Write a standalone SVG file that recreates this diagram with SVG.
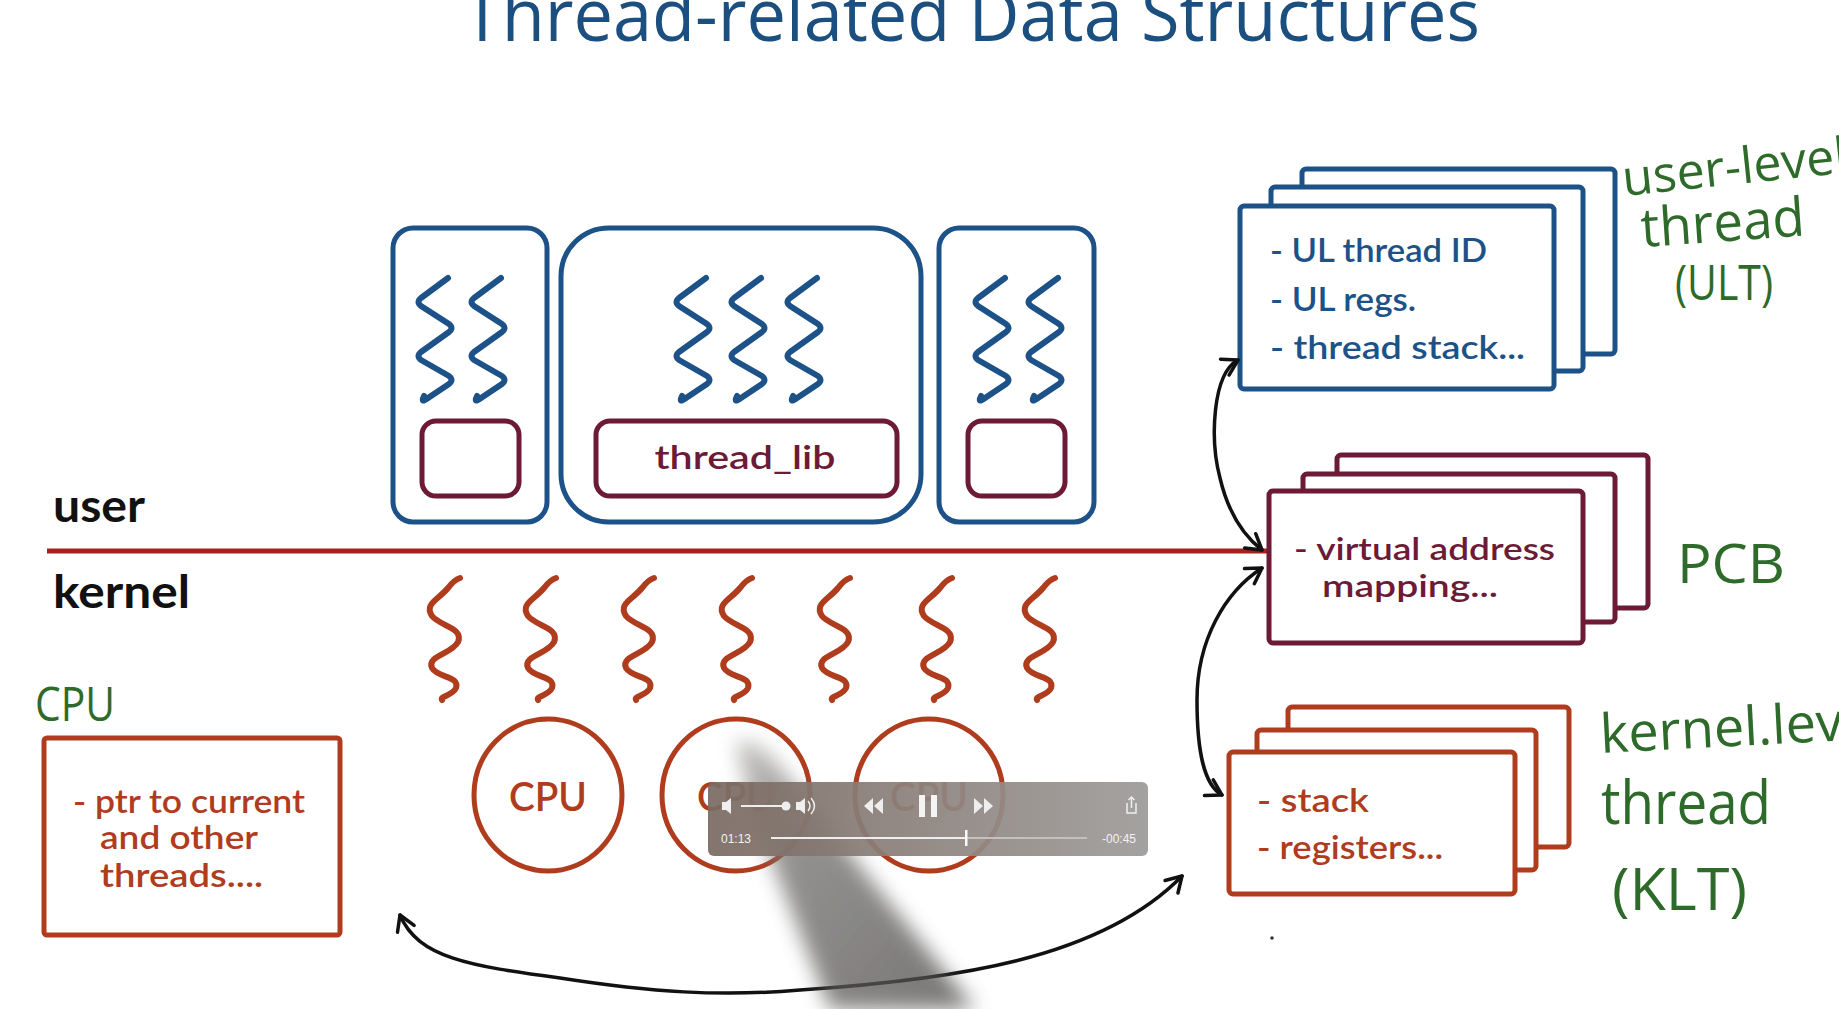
<svg xmlns="http://www.w3.org/2000/svg" width="1839" height="1009" viewBox="0 0 1839 1009">
<style>
  .blue{stroke:#1d5289;fill:none;stroke-width:5;stroke-linecap:round;stroke-linejoin:round}
  .maroon{stroke:#6d1a36;fill:none;stroke-width:5}
  .red{stroke:#b03c1e;fill:none;stroke-width:5}
  .sqb{stroke:#1d5289;fill:none;stroke-width:6;stroke-linecap:round;stroke-linejoin:round}
  .sqr{stroke:#b03c1e;fill:none;stroke-width:6;stroke-linecap:round;stroke-linejoin:round}
  .ink{stroke:#111;fill:none;stroke-width:3.5;stroke-linecap:round}
  .tb{font-family:"Lato","Liberation Sans",sans-serif;font-size:33px;fill:#1d5289;font-weight:600}
  .tm{font-family:"Lato","Liberation Sans",sans-serif;font-size:31px;fill:#6d1a36;font-weight:600}
  .tr{font-family:"Lato","Liberation Sans",sans-serif;font-size:33px;fill:#b03c1e;font-weight:600}
  .hw{font-family:"Open Sans","DejaVu Sans",sans-serif;font-weight:400;fill:#2e6b2a}
  .lbl{font-family:"Lato","Liberation Sans",sans-serif;font-weight:700;fill:#111;font-size:46px}
  .ui{font-family:"Liberation Sans",sans-serif;font-size:12px;fill:#f2f2f2}
</style>
<defs>
  <path id="sq" d="M12,0 L-15,20 Q-20,24 -15,28 L13,46 Q18,50 13,54 L-15,74 Q-20,78 -15,82 L13,98 Q18,102 13,106 L-8,120 Q-16,126 -12,118"/>
  <path id="sk" d="M14,0 Q8,2 2,10 C-8,22 -22,26 -14,38 C-6,48 18,50 12,64 C6,76 -20,78 -14,90 C-8,100 14,98 10,110 C6,118 -6,118 -4,122"/>
  <marker id="ah" viewBox="0 0 24 24" refX="19" refY="12" markerWidth="24" markerHeight="24" markerUnits="userSpaceOnUse" orient="auto-start-reverse">
    <path d="M4,3 L19,12 L4,21" fill="none" stroke="#111" stroke-width="3.5" stroke-linecap="round" stroke-linejoin="round"/>
  </marker>
  <filter id="blur" x="-50%" y="-50%" width="200%" height="200%"><feGaussianBlur stdDeviation="10"/></filter>
  <linearGradient id="pen" x1="0" y1="0" x2="1" y2="1">
    <stop offset="0" stop-color="#b0aeac"/>
    <stop offset="0.35" stop-color="#6e6c6a"/>
    <stop offset="1" stop-color="#4a4846"/>
  </linearGradient>
  <linearGradient id="bar" x1="0" y1="0" x2="1" y2="0">
    <stop offset="0" stop-color="#7a6a62"/>
    <stop offset="0.4" stop-color="#8a7f79"/>
    <stop offset="1" stop-color="#9d9b99"/>
  </linearGradient>
</defs>

<rect width="1839" height="1009" fill="#ffffff"/>

<!-- title -->
<text x="463" y="41" textLength="1017" lengthAdjust="spacingAndGlyphs" style="font-family:'Open Sans','DejaVu Sans',sans-serif;font-weight:400;font-size:74px;fill:#1a4f7f">Thread-related Data Structures</text>

<!-- user / kernel divider -->
<g id="divider">
  <line x1="47" y1="551" x2="1267" y2="551" stroke="#a3221e" stroke-width="5"/>
  <text class="lbl" x="53" y="522" textLength="92" lengthAdjust="spacingAndGlyphs">user</text>
  <text class="lbl" x="53" y="608" textLength="137" lengthAdjust="spacingAndGlyphs">kernel</text>
</g>

<!-- user processes -->
<g id="proc1">
  <rect class="blue" x="393" y="228" width="154" height="294" rx="20"/>
  <use href="#sq" class="sqb" transform="translate(436,278)"/>
  <use href="#sq" class="sqb" transform="translate(489,278)"/>
  <rect class="maroon" x="422" y="421" width="97" height="75" rx="14"/>
</g>
<g id="proc2">
  <rect class="blue" x="561" y="228" width="360" height="294" rx="48"/>
  <use href="#sq" class="sqb" transform="translate(694,278)"/>
  <use href="#sq" class="sqb" transform="translate(749,278)"/>
  <use href="#sq" class="sqb" transform="translate(805,278)"/>
  <rect class="maroon" x="596" y="421" width="301" height="75" rx="14"/>
  <text class="tm" x="745" y="469" text-anchor="middle" style="font-size:33px" textLength="181" lengthAdjust="spacingAndGlyphs">thread_lib</text>
</g>
<g id="proc3">
  <rect class="blue" x="939" y="228" width="155" height="294" rx="20"/>
  <use href="#sq" class="sqb" transform="translate(993,278)"/>
  <use href="#sq" class="sqb" transform="translate(1046,278)"/>
  <rect class="maroon" x="968" y="421" width="97" height="75" rx="14"/>
</g>

<!-- kernel threads -->
<g id="kthreads">
  <use href="#sk" class="sqr" transform="translate(446,578)"/>
  <use href="#sk" class="sqr" transform="translate(542,578)"/>
  <use href="#sk" class="sqr" transform="translate(640,578)"/>
  <use href="#sk" class="sqr" transform="translate(738,578)"/>
  <use href="#sk" class="sqr" transform="translate(836,578)"/>
  <use href="#sk" class="sqr" transform="translate(938,578)"/>
  <use href="#sk" class="sqr" transform="translate(1041,578)"/>
</g>

<!-- CPUs -->
<g id="cpu1">
  <ellipse class="red" cx="548" cy="795" rx="74" ry="76"/>
  <text class="tr" x="548" y="811" text-anchor="middle" style="font-size:40px" textLength="78" lengthAdjust="spacingAndGlyphs">CPU</text>
</g>
<g id="cpu2">
  <ellipse class="red" cx="736" cy="795" rx="74" ry="76"/>
  <text class="tr" x="736" y="811" text-anchor="middle" style="font-size:40px" textLength="78" lengthAdjust="spacingAndGlyphs">CPU</text>
</g>
<g id="cpu3">
  <ellipse class="red" cx="929" cy="795" rx="74" ry="76"/>
  <text class="tr" x="929" y="811" text-anchor="middle" style="font-size:40px" textLength="78" lengthAdjust="spacingAndGlyphs">CPU</text>
</g>

<!-- CPU data structure -->
<g id="cpu-struct">
  <text class="hw" x="35" y="721" style="font-size:48px" textLength="80" lengthAdjust="spacingAndGlyphs">CPU</text>
  <rect class="red" x="44" y="738" width="296" height="197" rx="3"/>
  <text class="tr" x="73" y="813" textLength="232" lengthAdjust="spacingAndGlyphs">- ptr to current</text>
  <text class="tr" x="100" y="849" textLength="158" lengthAdjust="spacingAndGlyphs">and other</text>
  <text class="tr" x="100" y="887" textLength="163" lengthAdjust="spacingAndGlyphs">threads....</text>
</g>

<!-- ULT stack -->
<g id="ult">
  <rect class="blue" x="1302" y="169" width="313" height="185" rx="4" style="fill:#fff"/>
  <rect class="blue" x="1271" y="187" width="312" height="184" rx="4" style="fill:#fff"/>
  <rect class="blue" x="1240" y="206" width="314" height="183" rx="4" style="fill:#fff"/>
  <text class="tb" x="1270" y="262" textLength="217" lengthAdjust="spacingAndGlyphs">- UL thread ID</text>
  <text class="tb" x="1270" y="311" textLength="146" lengthAdjust="spacingAndGlyphs">- UL regs.</text>
  <text class="tb" x="1270" y="359" textLength="255" lengthAdjust="spacingAndGlyphs">- thread stack...</text>
  <text class="hw" x="1624" y="196" style="font-size:50px" transform="rotate(-6 1624 196)">user-level</text>
  <text class="hw" x="1642" y="247" style="font-size:54px" textLength="164" lengthAdjust="spacingAndGlyphs" transform="rotate(-4 1642 247)">thread</text>
  <text class="hw" x="1675" y="300" style="font-size:50px" textLength="98" lengthAdjust="spacingAndGlyphs">(ULT)</text>
</g>

<!-- PCB stack -->
<g id="pcb">
  <rect class="maroon" x="1337" y="455" width="311" height="153" rx="4" style="fill:#fff"/>
  <rect class="maroon" x="1303" y="474" width="312" height="148" rx="4" style="fill:#fff"/>
  <rect class="maroon" x="1269" y="491" width="314" height="152" rx="4" style="fill:#fff"/>
  <text class="tm" x="1294" y="560" textLength="261" lengthAdjust="spacingAndGlyphs">- virtual address</text>
  <text class="tm" x="1322" y="597" textLength="176" lengthAdjust="spacingAndGlyphs">mapping...</text>
  <text class="hw" x="1677" y="583" style="font-size:54px" textLength="108" lengthAdjust="spacingAndGlyphs">PCB</text>
</g>

<!-- KLT stack -->
<g id="klt">
  <rect class="red" x="1288" y="707" width="281" height="140" rx="4" style="fill:#fff"/>
  <rect class="red" x="1257" y="730" width="279" height="140" rx="4" style="fill:#fff"/>
  <rect class="red" x="1229" y="752" width="286" height="142" rx="4" style="fill:#fff"/>
  <text class="tr" x="1257" y="812" textLength="112" lengthAdjust="spacingAndGlyphs">- stack</text>
  <text class="tr" x="1257" y="859" textLength="186" lengthAdjust="spacingAndGlyphs">- registers...</text>
  <text class="hw" x="1601" y="753" style="font-size:54px" transform="rotate(-3 1601 753)">kernel.level</text>
  <text class="hw" x="1601" y="824" style="font-size:60px" textLength="170" lengthAdjust="spacingAndGlyphs">thread</text>
  <text class="hw" x="1612" y="910" style="font-size:58px" textLength="135" lengthAdjust="spacingAndGlyphs">(KLT)</text>
  <circle cx="1272" cy="938" r="1.8" fill="#333"/>
</g>

<!-- connectors -->
<g id="connectors">
  <path class="ink" d="M1238,360 C1212,374 1210,440 1220,478 C1228,512 1244,536 1262,550" marker-start="url(#ah)" marker-end="url(#ah)"/>
  <path class="ink" d="M1262,568 C1225,592 1197,640 1197,700 C1197,752 1204,785 1222,795" marker-start="url(#ah)" marker-end="url(#ah)"/>
  <path class="ink" d="M400,915 C418,958 470,966 560,978 C650,992 720,997 800,990 C950,980 1100,960 1182,876" marker-start="url(#ah)" marker-end="url(#ah)"/>
</g>

<!-- pen pointer (video frame) -->
<g id="pen-pointer" filter="url(#blur)" opacity="0.75">
  <path d="M736,742 C748,736 770,752 782,770 L975,1009 L830,1009 L750,805 Z" fill="url(#pen)"/>
</g>

<!-- video player overlay -->
<g id="player">
  <rect x="708" y="782" width="440" height="74" rx="6" fill="url(#bar)" opacity="0.93"/>
  <path d="M722,802 h4 l5,-4 v16 l-5,-4 h-4 z" fill="#eee"/>
  <line x1="741" y1="806" x2="786" y2="806" stroke="#eee" stroke-width="2"/>
  <circle cx="786" cy="806" r="4.5" fill="#eee"/>
  <path d="M796,802 h4 l5,-4 v16 l-5,-4 h-4 z" fill="#eee"/>
  <path d="M808,801 q4,5 0,10 M811,798 q7,8 0,16" stroke="#eee" stroke-width="1.5" fill="none"/>
  <path d="M874,806 l9,-8 v16 z M864,806 l9,-8 v16 z" fill="#eee"/>
  <rect x="919" y="795" width="6" height="22" fill="#f4f4f4"/>
  <rect x="931" y="795" width="6" height="22" fill="#f4f4f4"/>
  <path d="M974,798 l9,8 l-9,8 z M984,798 l9,8 l-9,8 z" fill="#eee"/>
  <path d="M1127,803 v10 h9 v-10 M1131.5,808 v-11 M1128.5,800 l3,-3 l3,3" stroke="#eee" stroke-width="1.5" fill="none"/>
  <text class="ui" x="721" y="843">01:13</text>
  <line x1="771" y1="838" x2="1087" y2="838" stroke="#c4c0bd" stroke-width="2"/>
  <line x1="771" y1="838" x2="966" y2="838" stroke="#eeeeee" stroke-width="2"/>
  <rect x="965" y="830" width="2.5" height="16" fill="#fafafa"/>
  <text class="ui" x="1136" y="843" text-anchor="end">-00:45</text>
</g>
</svg>
